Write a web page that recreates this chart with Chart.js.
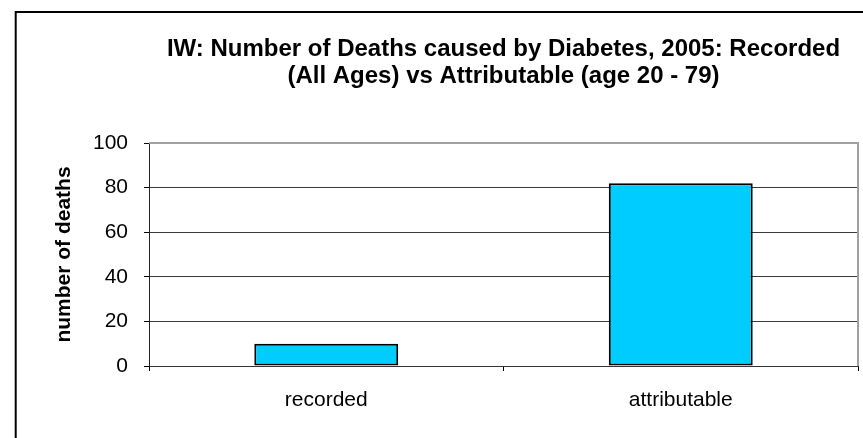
<!DOCTYPE html>
<html>
<head>
<meta charset="utf-8">
<script src="https://cdn.jsdelivr.net/npm/chart.js@4/dist/chart.umd.min.js"></script>
<style>
  html, body { margin: 0; padding: 0; background: #fff; }
  #wrap { width: 863px; height: 438px; position: relative; }
</style>
</head>
<body>
<div id="wrap"><canvas id="c" width="863" height="438"></canvas></div>
<script>
// Chart data
const categories = ['recorded', 'attributable'];
const deaths = [10, 82];
const yTicks = [0, 20, 40, 60, 80, 100];
const titleLines = [
  'IW: Number of Deaths caused by Diabetes, 2005: Recorded',
  '(All Ages) vs Attributable (age 20 - 79)'
];
const yAxisTitle = 'number of deaths';

const FONT = '"Liberation Sans", Arial, sans-serif';

// Outer frame, plot-area border and the two-line title centred over the plot
const framePlugin = {
  id: 'frame',
  beforeDraw(chart) {
    const ctx = chart.ctx;
    ctx.save();
    ctx.fillStyle = '#fff';
    ctx.fillRect(0, 0, chart.width, chart.height);
    ctx.strokeStyle = '#000';
    ctx.lineWidth = 2;
    ctx.strokeRect(15.7, 12, chart.width + 20, chart.height + 20);
    ctx.restore();
  },
  afterDraw(chart) {
    const ctx = chart.ctx;
    const a = chart.chartArea;
    ctx.save();
    ctx.strokeStyle = '#a0a0a0';
    ctx.lineWidth = 2;
    ctx.beginPath();
    ctx.moveTo(a.left, a.top);
    ctx.lineTo(a.right, a.top);
    ctx.lineTo(a.right, a.bottom);
    ctx.stroke();

    ctx.fillStyle = '#000';
    ctx.font = 'bold 24px ' + FONT;
    ctx.textAlign = 'center';
    ctx.textBaseline = 'alphabetic';
    const cx = (a.left + a.right) / 2;
    ctx.fillText(titleLines[0], cx, 56);
    ctx.fillText(titleLines[1], cx, 83);
    ctx.restore();
  }
};

new Chart(document.getElementById('c'), {
  type: 'bar',
  data: {
    labels: categories,
    datasets: [{
      data: deaths,
      backgroundColor: '#00CCFF',
      borderColor: '#000',
      borderWidth: 2,
      borderSkipped: false,
      categoryPercentage: 1,
      barPercentage: 0.406
    }]
  },
  options: {
    responsive: false,
    devicePixelRatio: 1,
    animation: false,
    layout: { padding: { top: 143, right: 5, bottom: 0, left: 0 } },
    plugins: {
      legend: { display: false },
      title: { display: false },
      tooltip: { enabled: false }
    },
    scales: {
      x: {
        afterFit(scale) { scale.height = 72; },
        grid: {
          offset: true,
          drawOnChartArea: false,
          drawTicks: true,
          tickLength: 5,
          tickColor: '#000'
        },
        border: { display: true, color: '#333', width: 1 },
        ticks: {
          color: '#000',
          padding: 17,
          font: { family: FONT, size: 21 }
        }
      },
      y: {
        min: 0,
        max: 100,
        afterFit(scale) { scale.width = 149; },
        afterBuildTicks(scale) { scale.ticks = yTicks.map(v => ({ value: v })); },
        grid: {
          color: ctx => (ctx.tick && ctx.tick.value === 100) ? 'rgba(0,0,0,0)' : '#3a3a3a',
          lineWidth: 1,
          drawTicks: true,
          tickLength: 5,
          tickColor: '#000'
        },
        border: { display: true, color: '#222', width: 1 },
        ticks: {
          color: '#000',
          padding: 16,
          font: { family: FONT, size: 21 }
        },
        title: {
          display: true,
          text: yAxisTitle,
          color: '#000',
          padding: { top: 52, bottom: 10 },
          font: { family: FONT, size: 21, weight: 'bold' }
        }
      }
    }
  },
  plugins: [framePlugin]
});
</script>
</body>
</html>
